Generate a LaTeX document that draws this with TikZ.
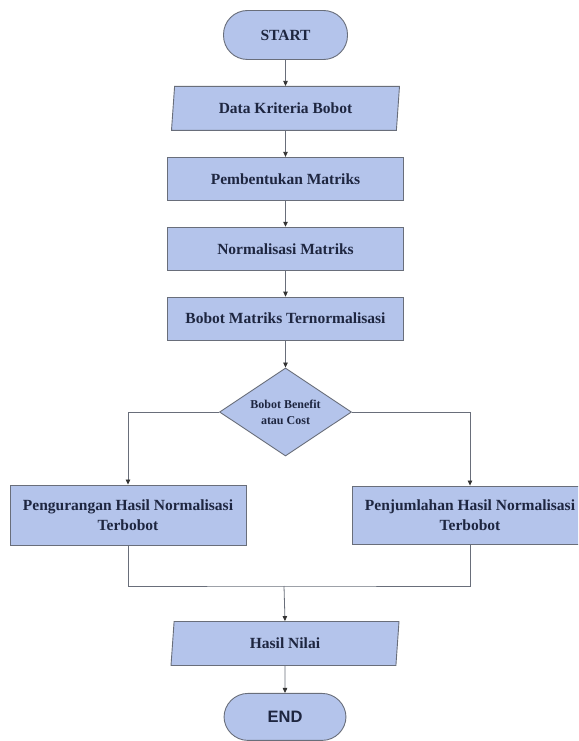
\documentclass[tikz,border=0pt]{standalone}
\usepackage{fontspec}
\setmainfont{Liberation Serif}
\setsansfont{Liberation Sans}
\usetikzlibrary{shapes.geometric, arrows.meta, positioning}
\definecolor{boxfill}{RGB}{180,196,235}
\definecolor{boxline}{RGB}{105,110,122}
\definecolor{boxtext}{RGB}{30,38,64}

\begin{document}
\begin{tikzpicture}[x=1pt, y=1pt,
every node/.style={font=\fontsize{15.5}{20}\selectfont\bfseries, text=boxtext, align=center},
base/.style={draw=boxline, fill=boxfill, line width=0.9pt},
terminal/.style={base, rectangle, rounded corners=24pt, minimum width=124pt, minimum height=49pt},
io/.style={base, trapezium, trapezium left angle=80, trapezium right angle=100, trapezium stretches body, minimum width=228pt, minimum height=44pt},
process/.style={base, rectangle, minimum width=236pt, minimum height=43pt},
decision/.style={base, diamond, aspect=1.5, minimum width=132pt, minimum height=88pt, inner sep=0pt, font=\fontsize{12}{16}\selectfont\bfseries},
arrow/.style={-{Triangle[length=5pt, width=4.5pt, color=black!80]}, line width=0.8pt, boxline},
line/.style={line width=0.8pt, boxline}
]
\clip (0,0) rectangle (578,-741);
% Nodes (main column)
\node[terminal] (start) at (285.5,-35) {START};
\node[io, below=26pt of start] (data) {Data Kriteria Bobot};
\node[process, below=26pt of data] (bentuk) {Pembentukan Matriks};
\node[process, below=26pt of bentuk] (norm) {Normalisasi Matriks};
\node[process, below=26pt of norm] (bobot) {Bobot Matriks Ternormalisasi};
\node[decision, below=27pt of bobot] (cek) {Bobot Benefit\\atau Cost};
% Branches
\node[process, minimum height=60pt] (kurang) at (128,-515) {Pengurangan Hasil Normalisasi\\Terbobot};
\node[process, minimum height=58pt] (jumlah) at (470,-515) {Penjumlahan Hasil Normalisasi\\Terbobot};
\coordinate (gabung) at (284,-586);
\node[io] (hasil) at (285,-643.5) {Hasil Nilai};
\node[terminal, below=27pt of hasil, minimum width=122pt, minimum height=47pt, font=\fontsize{16.5}{20}\sffamily\bfseries] (end) {END};
% Arrows
\draw[arrow] (start) -- (data);
\draw[arrow] (data) -- (bentuk);
\draw[arrow] (bentuk) -- (norm);
\draw[arrow] (norm) -- (bobot);
\draw[arrow] (bobot) -- (cek);
\draw[arrow] (cek.west) -| (kurang.north);
\draw[arrow] (cek.east) -| (jumlah.north);
\draw[line] (kurang.south) |- (gabung) -| (jumlah.south);
\draw[arrow] (gabung) -- (hasil.north);
\draw[arrow] (hasil) -- (end);
\end{tikzpicture}
\end{document}
